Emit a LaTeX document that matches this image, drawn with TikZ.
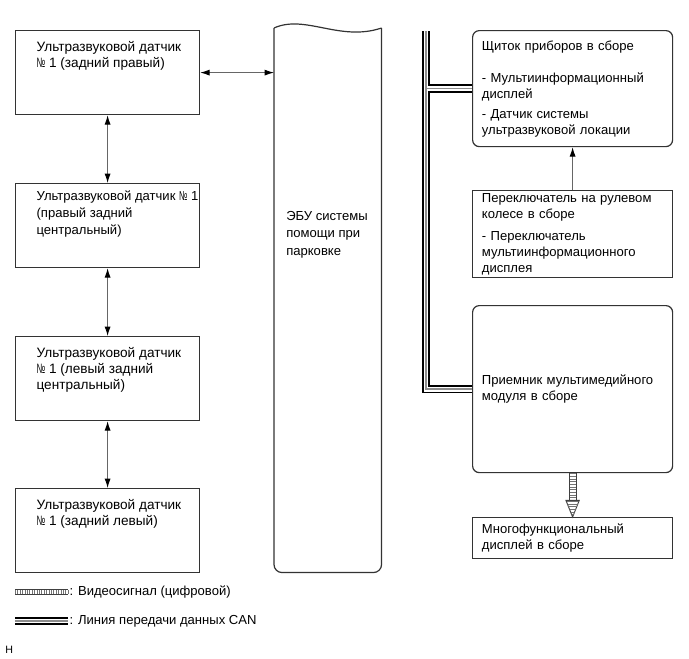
\documentclass[tikz,border=0pt]{standalone}
\usepackage{graphicx}
\usepackage{fontspec}
\setmainfont{Liberation Sans}
\usetikzlibrary{arrows.meta,positioning,calc}

\newcommand{\numsign}{\scalebox{0.6}[1]{№}}

\begin{document}
\begin{tikzpicture}[
    x=0.75pt, y=-0.75pt,
    font=\fontsize{9.8pt}{12pt}\selectfont,
    sensor/.style={rectangle, draw=black!80, line width=0.9pt, anchor=north west, minimum width=138pt, minimum height=63pt, inner sep=0pt},
    boxtext/.style={anchor=north west, align=left, inner xsep=16pt, inner ysep=8.5pt, font=\fontsize{10.2pt}{12pt}\selectfont},
    panel/.style={rectangle, draw=black!80, line width=0.9pt, anchor=north west, align=left, text width=136pt, inner xsep=7pt, inner ysep=0pt},
    round/.style={panel, rounded corners=5pt},
    ecubody/.style={rectangle, draw=none, anchor=north west, minimum width=80.25pt, minimum height=408pt, inner sep=0pt},
    biarrow/.style={draw=black!60, line width=0.7pt, {Latex[length=7pt,width=4.5pt,color=black]}-{Latex[length=7pt,width=4.5pt,color=black]}},
    arrow/.style={draw=black!60, line width=0.7pt, -{Latex[length=7pt,width=4.5pt,color=black]}},
    can/.style={draw=black, line width=6.4pt, postaction={draw=white, line width=3.6pt}, postaction={draw=black!45, line width=1.1pt}},
    video/.style={draw=black!75, line width=6pt, postaction={draw=white, line width=4.4pt}, postaction={draw=black!55, line width=4.4pt, dash pattern=on 0.6pt off 1.4pt}},
    videokey/.style={draw=black!75, line width=3.8pt, postaction={draw=white, line width=2.6pt}, postaction={draw=black!55, line width=2.6pt, dash pattern=on 0.6pt off 1.2pt}}
]
\useasboundingbox (0,0) rectangle (689,658);

% sensors on the left
\node[sensor, label={[boxtext]north west:{Ультразвуковой датчик\\\numsign{} 1 (задний правый)}}] (s1) at (15,30) {};
\node[sensor, label={[boxtext, inner ysep=5.5pt, font=\fontsize{9.8pt}{13pt}\selectfont]north west:{Ультразвуковой датчик \numsign{} 1\\(правый задний\\центральный)}}] (s2) at (15,183) {};
\node[sensor, label={[boxtext]north west:{Ультразвуковой датчик\\\numsign{} 1 (левый задний\\центральный)}}] (s3) at (15,336) {};
\node[sensor, label={[boxtext]north west:{Ультразвуковой датчик\\\numsign{} 1 (задний левый)}}] (s4) at (15,488) {};

% ECU column
\node[ecubody] (ecu) at (274,28) {};
\draw[black!80, line width=0.9pt, rounded corners=6pt] (ecu.north west) -- (ecu.south west) -- (ecu.south east) -- (ecu.north east);
\draw[black!80, line width=0.9pt] (ecu.north west) .. controls (305,14) and (340,42) .. (ecu.north east);
\node[anchor=north west, align=left, inner sep=0pt, font=\fontsize{9.8pt}{13pt}\selectfont] (ecutxt) at (286,211) {ЭБУ системы\\помощи при\\парковке};

% right side
\node[round, minimum height=87pt] (cl) at (472,30)
    {Щиток приборов в сборе\\[12pt]- Мультиинформационный\\дисплей\\[3pt]- Датчик системы\\ультразвуковой локации};
\node[panel, minimum height=65pt] (sw) at (472,190)
    {Переключатель на рулевом\\колесе в сборе\\[4.5pt]- Переключатель\\мультиинформационного\\дисплея};
\node[round, minimum height=125.25pt] (rx) at (472,305)
    {Приемник мультимедийного\\модуля в сборе};
\node[panel, minimum height=30.75pt] (md) at (472,517)
    {Многофункциональный\\дисплей в сборе};

% connections
\draw[biarrow] (s1.east) -- (s1.east -| ecu.west);
\draw[biarrow] (s1) -- (s2);
\draw[biarrow] (s2) -- (s3);
\draw[biarrow] (s3) -- (s4);
\draw[arrow] (sw) -- (cl);

% CAN bus
\coordinate (bustop) at (426,31);
\draw[can] (bustop) |- (rx.west) (bustop |- cl.west) -- (cl.west);

% video signal
\coordinate (vtip) at (md.north);
\draw[video] (rx.south) -- ([yshift=12pt]vtip);
\draw[black!75, line width=0.7pt, fill=white] ([xshift=-5pt,yshift=12.5pt]vtip) -- ([xshift=5pt,yshift=12.5pt]vtip) -- (vtip) -- cycle;
\begin{scope}
  \clip ([xshift=-5pt,yshift=12.5pt]vtip) -- ([xshift=5pt,yshift=12.5pt]vtip) -- (vtip) -- cycle;
  \draw[black!55, line width=8pt, dash pattern=on 0.6pt off 1.4pt] ([yshift=12pt]vtip) -- (vtip);
\end{scope}

% legend
\coordinate (k1a) at (15,592);
\coordinate (k1b) at (68,592);
\coordinate (k2a) at (15,621);
\coordinate (k2b) at (68,621);
\draw[videokey] (k1a) -- (k1b);
\draw[can] (k2a) -- (k2b);
\node[anchor=west, inner sep=1pt] (key1) at (k1b) {: Видеосигнал (цифровой)};
\node[anchor=west, inner sep=1pt] (key2) at (k2b) {: Линия передачи данных CAN};
\node[anchor=west, inner sep=0pt, font=\fontsize{8pt}{9pt}\selectfont] (mark) at (5,650) {H};
\end{tikzpicture}
\end{document}
